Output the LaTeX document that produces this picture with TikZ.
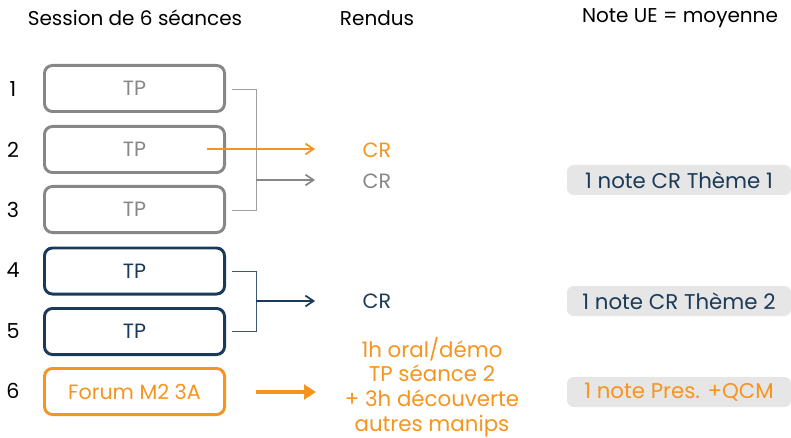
\documentclass[tikz,border=0pt]{standalone}
\usepackage{fontspec}
\setmainfont{Poppins}
\usetikzlibrary{arrows.meta}
\definecolor{grayc}{HTML}{878787}
\definecolor{navy}{HTML}{1B3A57}
\definecolor{orng}{HTML}{F7941D}
\definecolor{notebg}{HTML}{E6E6E6}
\begin{document}
\begin{tikzpicture}[x=0.75pt,y=-0.75pt,
  font=\fontsize{15.5}{18}\selectfont,
  hdr/.style={font=\fontsize{15}{18}\selectfont},
  sess/.style={draw,rounded corners=6pt,line width=2.2pt,minimum width=183*0.75pt-2.2pt,minimum height=49*0.75pt-2.2pt,anchor=center},
  notebox/.style={fill=notebg,rounded corners=5pt,minimum width=224*0.75pt,minimum height=30*0.75pt,anchor=center,font=\fontsize{16}{18}\selectfont},
  arr/.style={-{Straight Barb[length=6pt,width=8pt]},line width=1.3pt}]
\useasboundingbox (0,0) rectangle (791,438);
% headers
\node[hdr] (h1) at (135,18) {Session de 6 séances};
\node[hdr] (h2) at (377,18) {Rendus};
\node[hdr] (h3) at (680,18) {Note UE = moyenne};
% numbers
\foreach \i/\y in {1/89,2/150,3/210,4/270,5/331,6/391}{\node (n\i) at (13,\y) {\i};}
% session boxes
\node[sess,draw=grayc,text=grayc] (b1) at (134.5,88.5) {TP};
\node[sess,draw=grayc,text=grayc] (b2) at (134.5,149.5) {TP};
\node[sess,draw=grayc,text=grayc] (b3) at (134.5,209.5) {TP};
\node[sess,draw=navy,text=navy] (b4) at (134.5,271) {TP};
\node[sess,draw=navy,text=navy] (b5) at (134.5,331.5) {TP};
\node[sess,draw=orng,text=orng] (b6) at (134.5,391.5) {Forum M2 3A};
% rendus
\node[text=orng] (cr0) at (377,150) {CR};
\node[text=grayc] (cr1) at (377,181) {CR};
\node[text=navy] (cr2) at (377,301) {CR};
\node[text=orng,align=center,font=\fontsize{16}{18.5}\selectfont] (fo) at (432,387) {1h oral/démo\\TP séance 2\\+ 3h découverte\\autres manips};
% brackets
\coordinate (g1) at (232,89);
\coordinate (g3) at (232,210);
\coordinate (gm) at (256,180);
\coordinate (ge) at (315,180);
\draw[grayc!80,line width=0.7pt] (g1) -- (256,89) -- (256,210) -- (g3);
\draw[grayc,arr] (gm) -- (ge);
\coordinate (o1) at (207,149);
\coordinate (o2) at (315,149);
\draw[orng,arr] (o1) -- (o2);
\coordinate (d1) at (232,271);
\coordinate (d2) at (232,331);
\coordinate (dm) at (256,301);
\coordinate (de) at (315,301);
\draw[navy!85,line width=0.7pt] (d1) -- (256,271) -- (256,331) -- (d2);
\draw[navy,arr] (dm) -- (de);
\coordinate (f1) at (256,392);
\coordinate (f2) at (316,392);
\draw[orng,-{Triangle[length=9pt,width=11pt]},line width=3.5pt] (f1) -- (f2);
% notes
\node[notebox,text=navy] (nt1) at (679,180) {1 note CR Thème 1};
\node[notebox,text=navy] (nt2) at (679,301) {1 note CR Thème 2};
\node[notebox,text=orng] (nt3) at (679,392) {1 note Pres. +QCM};
\end{tikzpicture}
\end{document}
